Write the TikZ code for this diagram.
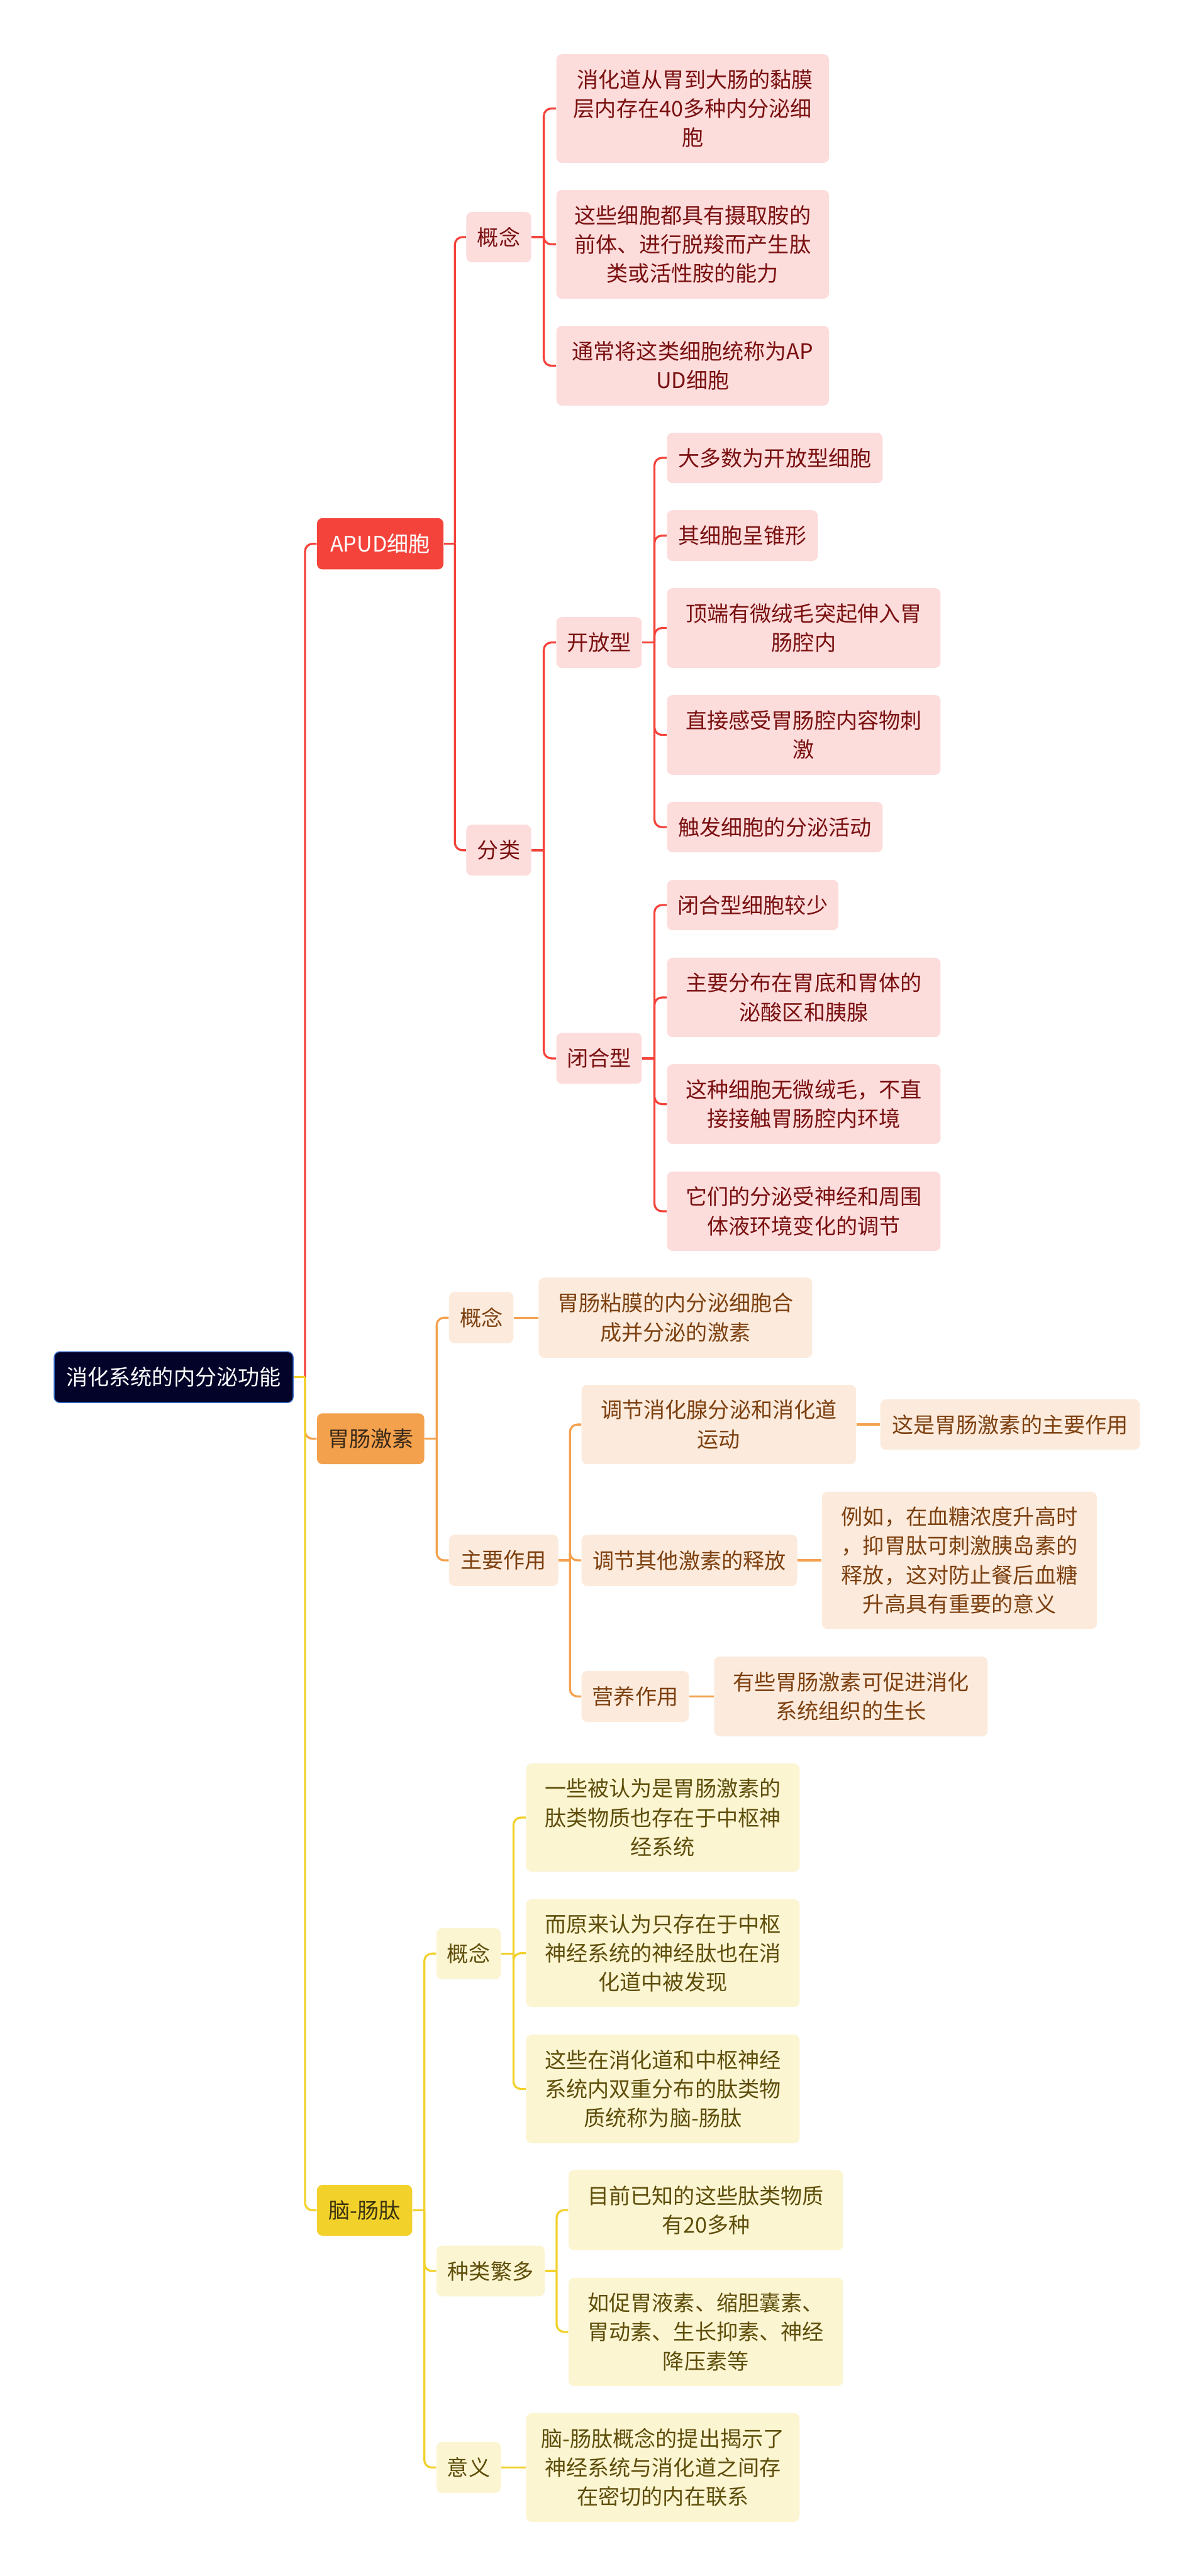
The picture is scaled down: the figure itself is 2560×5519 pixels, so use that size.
\documentclass[tikz,border=0pt]{standalone}
\usepackage{fontspec}
\newfontfamily\cjk{Noto Sans CJK SC}
\usetikzlibrary{calc}
\definecolor{redc}{HTML}{F4433B}
\definecolor{pinkfill}{HTML}{FDDCDC}
\definecolor{pinktext}{HTML}{7A1010}
\definecolor{orc}{HTML}{F4A14D}
\definecolor{orfill}{HTML}{FCEBDC}
\definecolor{ortext}{HTML}{7D4010}
\definecolor{yec}{HTML}{F2D12B}
\definecolor{yefill}{HTML}{FCF5D2}
\definecolor{yetext}{HTML}{5E4E0A}
\definecolor{rootfill}{HTML}{03032A}
\definecolor{rootline}{HTML}{3A70CF}
\tikzset{
  basebox/.style={rounded corners=3pt, inner sep=0pt, align=center,
    font={\cjk\fontsize{11.5pt}{15.6pt}\selectfont}},
  rootbox/.style={basebox, fill=rootfill, draw=rootline, line width=0.5pt, text=white},
  rmain/.style={basebox, fill=redc, text=white},
  omain/.style={basebox, fill=orc, text={rgb,255:red,59;green,42;blue,24}},
  ymain/.style={basebox, fill=yec, text={rgb,255:red,58;green,52;blue,16}},
  pbox/.style={basebox, fill=pinkfill, text=pinktext},
  obox/.style={basebox, fill=orfill, text=ortext},
  ybox/.style={basebox, fill=yefill, text=yetext},
  rl/.style={draw=redc, line width=1.1pt},
  ol/.style={draw=orc, line width=1.1pt},
  yl/.style={draw=yec, line width=1.1pt},
}
\newcommand\bx[7]{\node[#1, minimum width={(#5-#3)*0.25pt}, minimum height={(#6-#4)*0.25pt}] (#2) at ({(#3+#5)/2},{(#4+#6)/2}) {#7};}
\newcommand\conn[3]{%
  \path (#2.east) -- (#3.west) coordinate[pos=0.5] (tmpm);
  \draw[#1] (#2.east) -- (#2.east -| tmpm);
  \draw[#1, rounded corners=4pt] (#2.east -| tmpm) |- (#3.west);
}
\begin{document}
\begin{tikzpicture}[x=0.25pt,y=-0.25pt]
\fill[white] (0,0) rectangle (2560,5519);
\useasboundingbox (0,0) rectangle (2560,5519);

% root
\bx{rootbox}{root}{116}{2896}{628}{3005}{消化系统的内分泌功能}

% APUD branch
\bx{rmain}{apud}{679}{1110}{950}{1220}{APUD细胞}
\bx{pbox}{akn}{999}{454}{1138}{562}{概念}
\bx{pbox}{a1}{1192}{116}{1776}{349}{\ 消化道从胃到大肠的黏膜\\层内存在40多种内分泌细\\胞}
\bx{pbox}{a2}{1192}{407}{1776}{640}{这些细胞都具有摄取胺的\\前体、进行脱羧而产生肽\\类或活性胺的能力}
\bx{pbox}{a3}{1192}{698}{1776}{869}{通常将这类细胞统称为AP\\UD细胞}
\bx{pbox}{afl}{999}{1767}{1138}{1876}{分类}
\bx{pbox}{kfx}{1192}{1322}{1375}{1431}{开放型}
\bx{pbox}{o1}{1429}{927}{1891}{1035}{大多数为开放型细胞}
\bx{pbox}{o2}{1429}{1093}{1752}{1202}{其细胞呈锥形}
\bx{pbox}{o3}{1429}{1260}{2015}{1431}{顶端有微绒毛突起伸入胃\\肠腔内}
\bx{pbox}{o4}{1429}{1489}{2015}{1660}{直接感受胃肠腔内容物刺\\激}
\bx{pbox}{o5}{1429}{1718}{1891}{1826}{触发细胞的分泌活动}
\bx{pbox}{bhx}{1192}{2213}{1375}{2322}{闭合型}
\bx{pbox}{c1}{1429}{1885}{1796}{1993}{闭合型细胞较少}
\bx{pbox}{c2}{1429}{2052}{2015}{2222}{主要分布在胃底和胃体的\\泌酸区和胰腺}
\bx{pbox}{c3}{1429}{2280}{2015}{2451}{这种细胞无微绒毛，不直\\接接触胃肠腔内环境}
\bx{pbox}{c4}{1429}{2510}{2015}{2680}{它们的分泌受神经和周围\\体液环境变化的调节}

% GI hormone branch
\bx{omain}{gi}{679}{3028}{909}{3137}{胃肠激素}
\bx{obox}{gkn}{962}{2768}{1100}{2878}{概念}
\bx{obox}{gc1}{1154}{2737}{1740}{2909}{胃肠粘膜的内分泌细胞合\\成并分泌的激素}
\bx{obox}{gzy}{962}{3288}{1196}{3398}{主要作用}
\bx{obox}{g1}{1246}{2967}{1834}{3137}{调节消化腺分泌和消化道\\运动}
\bx{obox}{g1r}{1886}{2998}{2442}{3106}{这是胃肠激素的主要作用}
\bx{obox}{g2}{1246}{3288}{1708}{3398}{调节其他激素的释放}
\bx{obox}{g2r}{1761}{3196}{2350}{3490}{例如，在血糖浓度升高时\\，抑胃肽可刺激胰岛素的\\释放，这对防止餐后血糖\\升高具有重要的意义}
\bx{obox}{g3}{1246}{3580}{1476}{3689}{营养作用}
\bx{obox}{g3r}{1530}{3549}{2116}{3720}{有些胃肠激素可促进消化\\系统组织的生长}

% brain-gut peptide branch
\bx{ymain}{bg}{679}{4681}{883}{4790}{脑-肠肽}
\bx{ybox}{bkn}{935}{4131}{1073}{4240}{概念}
\bx{ybox}{b1}{1127}{3778}{1713}{4010}{一些被认为是胃肠激素的\\肽类物质也存在于中枢神\\经系统}
\bx{ybox}{b2}{1127}{4069}{1713}{4300}{而原来认为只存在于中枢\\神经系统的神经肽也在消\\化道中被发现}
\bx{ybox}{b3}{1127}{4359}{1713}{4592}{这些在消化道和中枢神经\\系统内双重分布的肽类物\\质统称为脑-肠肽}
\bx{ybox}{bzl}{935}{4811}{1167}{4920}{种类繁多}
\bx{ybox}{k1}{1218}{4649}{1806}{4821}{目前已知的这些肽类物质\\有20多种}
\bx{ybox}{k2}{1218}{4880}{1806}{5112}{如促胃液素、缩胆囊素、\\胃动素、生长抑素、神经\\降压素等}
\bx{ybox}{byy}{935}{5232}{1073}{5341}{意义}
\bx{ybox}{y1}{1127}{5170}{1713}{5403}{脑-肠肽概念的提出揭示了\\神经系统与消化道之间存\\在密切的内在联系}

% connectors
\conn{rl}{root}{apud}
\conn{ol}{root}{gi}
\conn{yl}{root}{bg}

\conn{rl}{apud}{akn}
\conn{rl}{apud}{afl}
\conn{rl}{akn}{a1}
\conn{rl}{akn}{a2}
\conn{rl}{akn}{a3}
\conn{rl}{afl}{kfx}
\conn{rl}{afl}{bhx}
\conn{rl}{kfx}{o1}
\conn{rl}{kfx}{o2}
\conn{rl}{kfx}{o3}
\conn{rl}{kfx}{o4}
\conn{rl}{kfx}{o5}
\conn{rl}{bhx}{c1}
\conn{rl}{bhx}{c2}
\conn{rl}{bhx}{c3}
\conn{rl}{bhx}{c4}

\conn{ol}{gi}{gkn}
\conn{ol}{gi}{gzy}
\draw[ol] (gkn.east) -- (gc1.west);
\conn{ol}{gzy}{g1}
\conn{ol}{gzy}{g2}
\conn{ol}{gzy}{g3}
\draw[ol] (g1.east) -- (g1r.west);
\draw[ol] (g2.east) -- (g2r.west);
\draw[ol] (g3.east) -- (g3r.west);

\conn{yl}{bg}{bkn}
\conn{yl}{bg}{bzl}
\conn{yl}{bg}{byy}
\conn{yl}{bkn}{b1}
\conn{yl}{bkn}{b2}
\conn{yl}{bkn}{b3}
\conn{yl}{bzl}{k1}
\conn{yl}{bzl}{k2}
\draw[yl] (byy.east) -- (y1.west);
\end{tikzpicture}
\end{document}
